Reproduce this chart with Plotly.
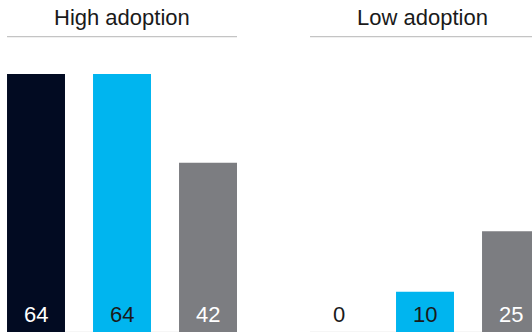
import plotly.graph_objects as go

groups = ["High adoption", "Low adoption"]
series_colors = ["#020b22", "#00b5ef", "#7c7d81"]
label_colors = ["#ffffff", "#1a1a1a", "#ffffff"]
values = {
    "High adoption": [64, 64, 42],
    "Low adoption": [0, 10, 25],
}
group_offsets = [0.0, 3.523]
bar_width = 0.674

fig = go.Figure()
annotations = []
shapes = []
for g, (name, off) in enumerate(zip(groups, group_offsets)):
    vals = values[name]
    xs = [off + i for i in range(len(vals))]
    fig.add_trace(go.Bar(
        x=xs, y=vals, width=bar_width,
        marker=dict(color=series_colors, line=dict(width=0)),
        showlegend=False, hoverinfo="skip",
    ))
    for i, (x, v) in enumerate(zip(xs, vals)):
        col = label_colors[i] if v > 8 else "#1a1a1a"
        annotations.append(dict(
            x=x, y=0, xref="x", yref="y", text=str(v), showarrow=False,
            yanchor="bottom", yshift=3,
            font=dict(size=22, color=col, family="Liberation Sans, Arial, sans-serif"),
        ))
    left = off - bar_width / 2
    right = off + 2 + bar_width / 2
    shapes.append(dict(type="line", xref="x", yref="paper", x0=left, x1=right,
                       y0=1.145, y1=1.145, line=dict(color="#c4c4c4", width=1.2)))
    shapes.append(dict(type="line", xref="x", yref="y", x0=left, x1=right,
                       y0=0, y1=0, line=dict(color="#ececec", width=1), layer="below"))
    annotations.append(dict(
        x=off + 1, y=1.218, xref="x", yref="paper", text=name, showarrow=False,
        yanchor="middle", xshift=(0 if g == 0 else -3),
        font=dict(size=22, color="#1a1a1a", family="Liberation Sans, Arial, sans-serif"),
    ))

fig.update_layout(
    width=532, height=335,
    margin=dict(l=0, r=0, t=74, b=3),
    paper_bgcolor="white", plot_bgcolor="white",
    xaxis=dict(range=[-0.4186, 5.767], visible=False, fixedrange=True),
    yaxis=dict(range=[0, 64], visible=False, fixedrange=True),
    annotations=annotations, shapes=shapes, barmode="overlay",
)
fig.write_html("out.html")
